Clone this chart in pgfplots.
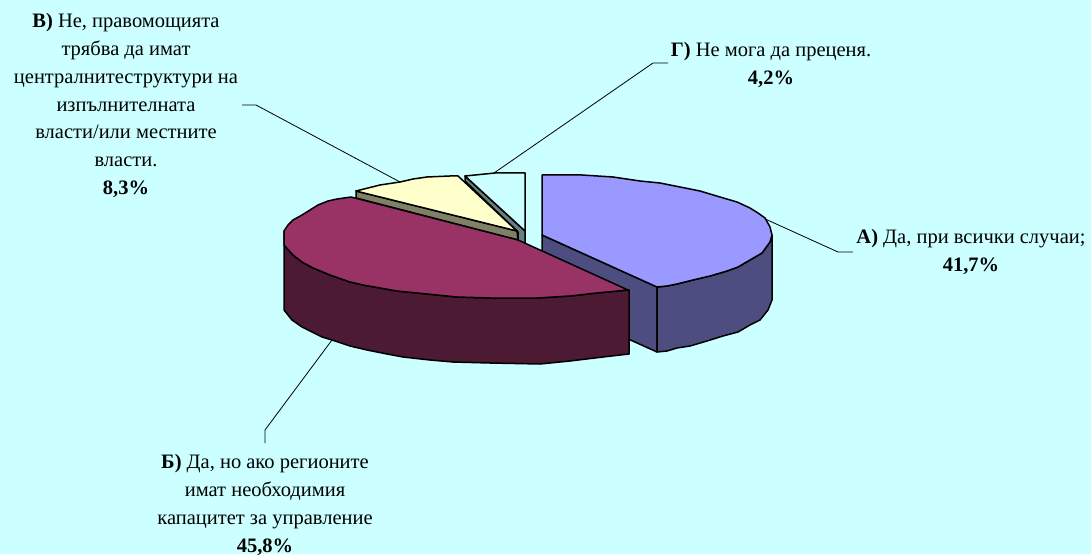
\documentclass[border=0pt]{standalone}
\usepackage{fontspec}
\setmainfont{Liberation Serif}
\usepackage{pgfplots}
\pgfplotsset{compat=1.18}
\definecolor{bgc}{HTML}{CCFFFF}
\definecolor{bluetop}{HTML}{9999FF}
\definecolor{blueside}{HTML}{4D4D80}
\definecolor{redtop}{HTML}{993366}
\definecolor{redside}{HTML}{4D1A33}
\definecolor{yeltop}{HTML}{FFFFCC}
\definecolor{yelside}{HTML}{808066}
\definecolor{cyanside}{HTML}{668080}
\newcommand{\labfont}{\fontsize{20.5}{27.8}\selectfont}
\tikzset{
    pie/.style={draw=black, line width=1.5pt, line join=round},
    lead/.style={draw=black, line width=0.8pt},
    lab/.style={align=center, font=\labfont, text=black, inner sep=0pt},
}
\begin{document}
\begin{tikzpicture}
\begin{axis}[
    width=1091pt, height=554pt, scale only axis,
    xmin=0, xmax=1091, ymin=0, ymax=554, y dir=reverse,
    axis line style={draw=none}, ticks=none, clip=false,
]
% background
\addplot[fill=bgc, draw=none] coordinates {(0,0) (1091,0) (1091,554) (0,554)} -- cycle;

% leader lines
\addplot[lead] coordinates {(668,63) (653,63) (494,173)};
\addplot[lead] coordinates {(242,105) (256,105) (400,182)};
\addplot[lead] coordinates {(853,252) (838,252) (763,218)};
\addplot[lead] coordinates {(265,443) (265,430) (332,340)};

% A: blue slice
\addplot[pie, fill=blueside] coordinates {(542,235) (657,287) (657,352) (542,300)} -- cycle;
\addplot[pie, fill=blueside] coordinates {(657,287) (667,286) (677,284) (693,280) (710,276) (727,271) (738,267)
    (750,260) (762,253) (770,242) (772,235)
    (772,300) (768,310) (760,320) (750,325) (738,332) (723,336) (707,341) (690,346) (677,348) (667,351) (657,352)} -- cycle;
\addplot[pie, fill=bluetop] coordinates {(542,175) (582,175) (613,177) (640,181) (660,183) (680,187) (700,191)
    (720,197) (737,202) (750,208) (758,213) (765,218) (770,227) (772,235) (770,242) (762,253) (750,260) (738,267)
    (727,271) (710,276) (693,280) (677,284) (667,286) (657,287) (542,235)} -- cycle;

% G: open slice
\addplot[pie, fill=cyanside] coordinates {(465,176) (525,231) (525,243) (518,243) (518,232) (465,181)} -- cycle;
\addplot[pie, fill=bgc] coordinates {(465,176) (495,173) (525,173) (525,231)} -- cycle;

% V: yellow slice
\addplot[pie, fill=yelside] coordinates {(356,191) (517,231) (518,240) (356,198)} -- cycle;
\addplot[pie, fill=yeltop] coordinates {(356,191) (380,185) (400,182) (413,179) (427,177) (450,176) (458,176) (517,231)} -- cycle;

% B: red slice
\addplot[pie, fill=redside] coordinates {(284,231) (284,310) (292,320) (302,327) (312,332) (322,337) (332,340)
    (350,346) (367,350) (387,354) (403,357) (430,360) (453,362) (490,363) (540,364) (570,361) (603,357) (629,354) (629,290)
    (597,293) (570,296) (537,298) (490,298) (457,297) (437,295) (417,293) (397,291) (380,288) (363,285) (350,282)
    (330,275) (313,268) (302,262) (293,255) (284,245)} -- cycle;
\addplot[pie, fill=redtop] coordinates {(351,197) (518,240) (628,290) (597,293) (570,296) (537,298) (490,298) (457,297)
    (437,295) (417,293) (397,291) (380,288) (363,285) (350,282) (330,275) (313,268) (302,262) (293,255) (284,245)
    (284,231) (288,225) (293,220) (302,215) (310,210) (318,205) (328,201) (337,199)} -- cycle;

% labels
\node[lab] at (axis cs:126,105.5) {\textbf{В)} Не, правомощията\\трябва да имат\\централнитеструктури на\\изпълнителната\\власти/или местните\\власти.\\\textbf{8,3\%}};
\node[lab] at (axis cs:771,65) {\textbf{Г)} Не мога да преценя.\\\textbf{4,2\%}};
\node[lab] at (axis cs:971,252) {\textbf{А)} Да, при всички случаи;\\\textbf{41,7\%}};
\node[lab] at (axis cs:265,505) {\textbf{Б)} Да, но ако регионите\\имат необходимия\\капацитет за управление\\\textbf{45,8\%}};
\end{axis}
\end{tikzpicture}
\end{document}
